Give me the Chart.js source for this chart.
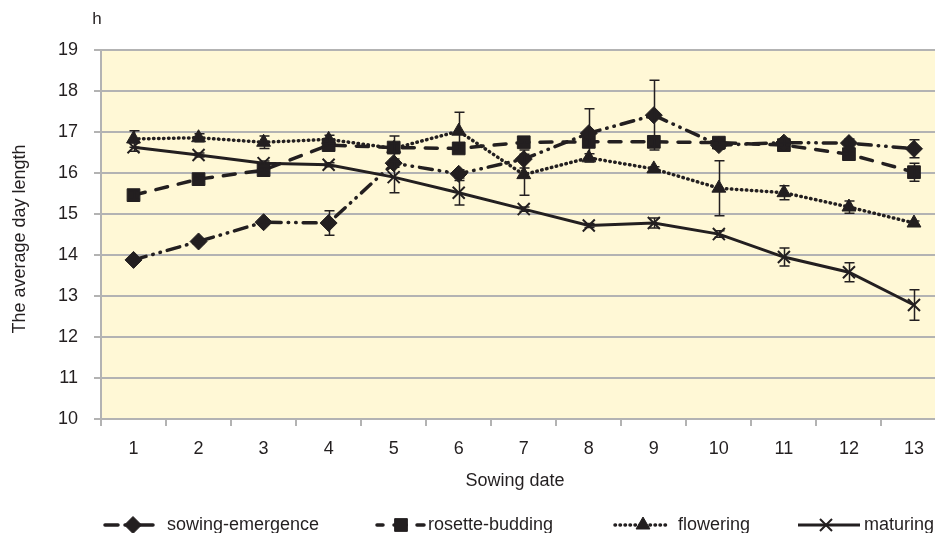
<!DOCTYPE html>
<html>
<head>
<meta charset="utf-8">
<script src="https://cdn.jsdelivr.net/npm/chart.js@4.4.0/dist/chart.umd.min.js"></script>
<style>
  html, body { margin: 0; padding: 0; background: #fff; overflow: hidden; }
  #wrap { width: 960px; height: 533px; }
</style>
</head>
<body>
<div id="wrap"><canvas id="chart" width="960" height="533"></canvas></div>
<script>
// sowing dates (x categories)
const sowingDates = ['1', '2', '3', '4', '5', '6', '7', '8', '9', '10', '11', '12', '13'];

// average day length, h
const sowingEmergence = [13.88, 14.33, 14.8, 14.78, 16.24, 15.98, 16.34, 16.97, 17.41, 16.68, 16.74, 16.73, 16.59];
const rosetteBudding  = [15.46, 15.85, 16.07, 16.68, 16.62, 16.6, 16.75, 16.76, 16.76, 16.74, 16.68, 16.46, 16.02];
const flowering       = [16.83, 16.86, 16.75, 16.82, 16.6, 17.02, 15.96, 16.37, 16.1, 15.63, 15.52, 15.17, 14.78];
const maturing        = [16.63, 16.44, 16.24, 16.2, 15.9, 15.52, 15.12, 14.72, 14.78, 14.51, 13.95, 13.58, 12.78];

// error bar half-lengths
const sowingEmergenceErr = [0.05, 0.05, 0.05, 0.3, 0.1, 0.1, 0.22, 0.6, 0.85, 0.1, 0.1, 0.1, 0.22];
const rosetteBuddingErr  = [0.1, 0.05, 0.05, 0.05, 0.1, 0.05, 0.05, 0.1, 0.1, 0.05, 0.05, 0.05, 0.22];
const floweringErr       = [0.2, 0.1, 0.15, 0.1, 0.3, 0.46, 0.5, 0.1, 0.05, 0.67, 0.17, 0.15, 0.05];
const maturingErr        = [0.1, 0.05, 0.05, 0.05, 0.38, 0.3, 0.05, 0.05, 0.12, 0.08, 0.22, 0.23, 0.37];

const yTicks = [10, 11, 12, 13, 14, 15, 16, 17, 18, 19];

const ink = '#231f20';
const gridGray = '#b3b3b3';
const FONT = '"Liberation Sans", Arial, sans-serif';

// legend sample placement (x0, x1 = line, mx = marker, tx = text)
const legendSlots = [
  { x0: 105, x1: 158, mx: 133, tx: 167, off: 0 },
  { x0: 377, x1: 424, mx: 401, tx: 428, off: 6 },
  { x0: 615, x1: 668, mx: 643, tx: 678, off: 0 },
  { x0: 798, x1: 860, mx: 826, tx: 864, off: 0 },
];

const plotBg = {
  id: 'plotBg',
  beforeDraw(chart) {
    const { ctx, chartArea: a } = chart;
    ctx.save();
    ctx.fillStyle = '#fff8d6';
    ctx.fillRect(a.left, a.top, a.right - a.left, a.bottom - a.top);
    ctx.restore();
  }
};

const errorBars = {
  id: 'errorBars',
  afterDatasetsDraw(chart) {
    const { ctx } = chart;
    const xs = chart.scales.x, ys = chart.scales.y;
    ctx.save();
    ctx.strokeStyle = ink;
    ctx.lineWidth = 1.5;
    chart.data.datasets.forEach(ds => {
      const errs = ds.errors;
      if (!errs) return;
      ds.data.forEach((v, i) => {
        const e = errs[i];
        if (!e) return;
        const px = Math.round(xs.getPixelForValue(i)) + 0.5;
        const top = ys.getPixelForValue(v + e);
        const bot = ys.getPixelForValue(v - e);
        ctx.beginPath();
        ctx.moveTo(px, top); ctx.lineTo(px, bot);
        ctx.moveTo(px - 5, top); ctx.lineTo(px + 5, top);
        ctx.moveTo(px - 5, bot); ctx.lineTo(px + 5, bot);
        ctx.stroke();
      });
    });
    ctx.restore();
  }
};

const labelsAndLegend = {
  id: 'labelsAndLegend',
  afterDraw(chart) {
    const { ctx } = chart;
    ctx.save();
    ctx.fillStyle = ink;
    ctx.font = '17px ' + FONT;
    ctx.textAlign = 'center';
    ctx.textBaseline = 'middle';
    ctx.fillText('h', 97, 19);

    ctx.font = '18px ' + FONT;
    ctx.fillText('Sowing date', 515, 481);

    ctx.save();
    ctx.translate(20, 239);
    ctx.rotate(-Math.PI / 2);
    ctx.fillText('The average day length', 0, 0);
    ctx.restore();

    // legend
    chart.data.datasets.forEach((ds, i) => {
      const s = legendSlots[i];
      const y = 525;
      ctx.save();
      ctx.strokeStyle = ink;
      ctx.lineWidth = ds.borderWidth;
      ctx.lineCap = ds.borderCapStyle || 'butt';
      ctx.setLineDash(ds.borderDash || []);
      ctx.lineDashOffset = s.off;
      ctx.beginPath();
      ctx.moveTo(s.x0, y); ctx.lineTo(s.x1, y);
      ctx.stroke();
      ctx.restore();
      ctx.save();
      ctx.fillStyle = ink;
      ctx.strokeStyle = ink;
      ctx.lineWidth = ds.pointBorderWidth;
      Chart.helpers.drawPoint(ctx, {
        pointStyle: ds.pointStyle, radius: ds.pointRadius,
        borderWidth: ds.pointBorderWidth, rotation: 0
      }, s.mx, y);
      ctx.restore();
      ctx.textAlign = 'left';
      ctx.fillText(ds.label, s.tx, y);
    });
    ctx.restore();
  }
};

new Chart(document.getElementById('chart'), {
  type: 'line',
  data: {
    labels: sowingDates,
    datasets: [
      {
        label: 'sowing-emergence', data: sowingEmergence, errors: sowingEmergenceErr,
        borderColor: ink, backgroundColor: ink, borderWidth: 3.5,
        borderDash: [13, 7, 0.5, 7, 0.5, 7], borderCapStyle: 'round',
        pointStyle: 'rectRot', pointRadius: 8.5, pointBorderWidth: 1,
        pointBackgroundColor: ink, pointBorderColor: ink
      },
      {
        label: 'rosette-budding', data: rosetteBudding, errors: rosetteBuddingErr,
        borderColor: ink, backgroundColor: ink, borderWidth: 3.5,
        borderDash: [12, 11], borderCapStyle: 'round',
        pointStyle: 'rect', pointRadius: 9, pointBorderWidth: 1,
        pointBackgroundColor: ink, pointBorderColor: ink
      },
      {
        label: 'flowering', data: flowering, errors: floweringErr,
        borderColor: ink, backgroundColor: ink, borderWidth: 3.5,
        borderDash: [0.5, 4.5], borderCapStyle: 'round',
        pointStyle: 'triangle', pointRadius: 8, pointBorderWidth: 1,
        pointBackgroundColor: ink, pointBorderColor: ink
      },
      {
        label: 'maturing', data: maturing, errors: maturingErr,
        borderColor: ink, backgroundColor: ink, borderWidth: 3,
        pointStyle: 'crossRot', pointRadius: 8.5, pointBorderWidth: 2,
        pointBackgroundColor: ink, pointBorderColor: ink
      }
    ]
  },
  options: {
    responsive: false,
    animation: false,
    events: [],
    layout: { padding: { top: 50, right: 13.5, left: 0, bottom: 0 } },
    plugins: { legend: { display: false }, tooltip: { enabled: false } },
    elements: { line: { tension: 0, fill: false } },
    scales: {
      x: {
        type: 'category',
        offset: true,
        afterFit(scale) { scale.height = 114; },
        grid: {
          offset: true, drawOnChartArea: false, drawTicks: true,
          tickLength: 7, color: gridGray, lineWidth: 2
        },
        border: { display: true, color: gridGray, width: 2 },
        ticks: { color: ink, font: { family: FONT, size: 18 }, padding: 12, maxRotation: 0 }
      },
      y: {
        min: yTicks[0], max: yTicks[yTicks.length - 1],
        afterFit(scale) { scale.width = 101; },
        afterBuildTicks(scale) { scale.ticks = yTicks.map(v => ({ value: v })); },
        grid: { color: gridGray, lineWidth: 2, tickLength: 7, drawTicks: true },
        border: { display: true, color: gridGray, width: 2 },
        ticks: { color: ink, font: { family: FONT, size: 18 }, padding: 16 }
      }
    }
  },
  plugins: [plotBg, errorBars, labelsAndLegend]
});
</script>
</body>
</html>
